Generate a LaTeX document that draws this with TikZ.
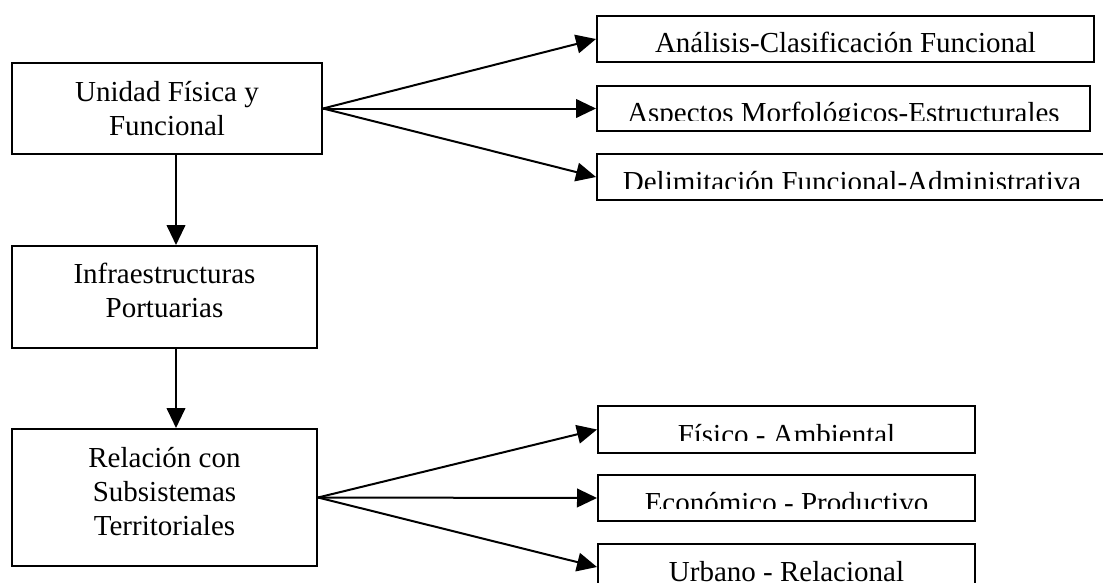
\documentclass[tikz,border=0pt]{standalone}
\usepackage{fontspec}
\setmainfont{Liberation Serif}
\usetikzlibrary{arrows.meta,calc}

\tikzset{
  box/.style={draw, line width=1.5pt, rectangle, inner sep=0pt, anchor=north west},
  txt/.style={inner sep=0pt, align=center, font=\fontsize{21.75}{25.5}\selectfont},
  arr/.style={line width=1.5pt, -{Triangle[length=15pt,width=14pt]}}
}

\begin{document}
\begin{tikzpicture}[x=0.75pt, y=-0.75pt]
  \useasboundingbox (0,0) rectangle (1103,582);
  \clip (0,0) rectangle (1103,582);
  % left column
  \node[box, minimum width=232.5pt, minimum height=68.25pt] (unidad) at (11,62) {};
  \node[txt, anchor=north] (unidadT) at ($(unidad.north)+(0,19)$) {Unidad Física y\\Funcional};
  \node[box, minimum width=228.75pt, minimum height=76.5pt] (infra) at (11,245) {};
  \node[txt, anchor=north] (infraT) at ($(infra.north)+(0,18)$) {Infraestructuras\\Portuarias};
  \node[box, minimum width=228.75pt, minimum height=102.75pt] (relacion) at (11,428) {};
  \node[txt, anchor=north] (relacionT) at ($(relacion.north)+(0,19)$) {Relación con\\Subsistemas\\Territoriales};
  \draw[arr] ($(unidad.south)+(9,0)$) -- ($(infra.north)+(11.5,0)$);
  \draw[arr] ($(infra.south)+(11.5,0)$) -- ($(relacion.north)+(11.5,0)$);

  % upper right boxes
  \node[box, minimum width=372.75pt, minimum height=34.5pt] (analisis) at (596,15) {};
  \begin{scope}
    \clip (analisis.north west) rectangle ($(analisis.north east)+(0,37)$);
    \node[txt, anchor=base] (analisisT) at ($(analisis.north)+(0,37)$) {Análisis-Clasificación Funcional};
  \end{scope}
  \node[box, minimum width=369.75pt, minimum height=33.75pt] (aspectos) at (596,85) {};
  \begin{scope}
    \clip (aspectos.north west) rectangle ($(aspectos.north east)+(0,35)$);
    \node[txt, anchor=base] (aspectosT) at ($(aspectos.north)+(0,37)$) {Aspectos Morfológicos-Estructurales};
  \end{scope}
  \node[box, minimum width=382.5pt, minimum height=34.5pt] (delim) at (596,153) {};
  \begin{scope}
    \clip (delim.north west) rectangle ($(delim.north east)+(0,35)$);
    \node[txt, anchor=base] (delimT) at ($(delim.north)+(0,38)$) {Delimitación Funcional-Administrativa};
  \end{scope}
  \draw[arr] (unidad.east) -- (analisis.west);
  \draw[arr] (unidad.east) -- (aspectos.west);
  \draw[arr] (unidad.east) -- (delim.west);

  % lower right boxes
  \node[box, minimum width=282.75pt, minimum height=35.25pt] (fisico) at (597,405) {};
  \begin{scope}
    \clip (fisico.north west) rectangle ($(fisico.north east)+(0,35)$);
    \node[txt, anchor=base] (fisicoT) at ($(fisico.north)+(0,39)$) {Físico - Ambiental};
  \end{scope}
  \node[box, minimum width=282.75pt, minimum height=34.5pt] (economico) at (597,474) {};
  \begin{scope}
    \clip (economico.north west) rectangle ($(economico.north east)+(0,34)$);
    \node[txt, anchor=base] (economicoT) at ($(economico.north)+(0,38)$) {Económico - Productivo};
  \end{scope}
  \node[box, minimum width=282.75pt, minimum height=34.5pt] (urbano) at (597,543) {};
  \begin{scope}
    \clip (urbano.north west) rectangle ($(urbano.north east)+(0,39)$);
    \node[txt, anchor=base] (urbanoT) at ($(urbano.north)+(0,38)$) {Urbano - Relacional};
  \end{scope}
  \draw[arr] (relacion.east) -- (fisico.west);
  \draw[arr] (relacion.east) -- (economico.west);
  \draw[arr] (relacion.east) -- (urbano.west);
\end{tikzpicture}
\end{document}
